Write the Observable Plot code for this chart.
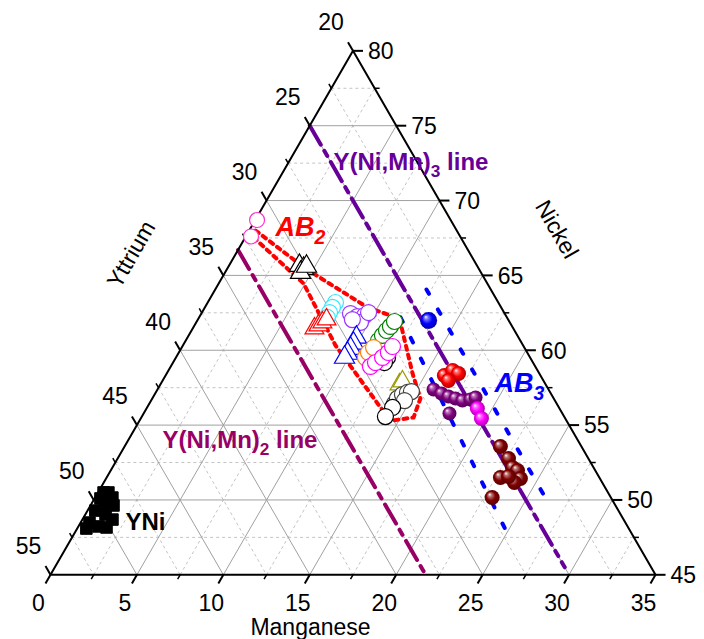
<!DOCTYPE html>
<html><head><meta charset="utf-8">
<script src="https://cdn.jsdelivr.net/npm/d3@7"></script>
<script src="https://cdn.jsdelivr.net/npm/@observablehq/plot@0.6"></script>
<style>
html,body{margin:0;padding:0;background:#fff;}
#chart svg{display:block;}
</style></head><body><div id="chart"></div>
<script>
// ---------- axis tick values ----------
const mnTicks = [0, 5, 10, 15, 20, 25, 30, 35];      // Manganese (bottom)
const niTicks = [45, 50, 55, 60, 65, 70, 75, 80];    // Nickel (right)
const yTicks  = [20, 25, 30, 35, 40, 45, 50, 55];    // Yttrium (left)

// ---------- data (Mn, Ni in at.%; Y = 100 - Mn - Ni) ----------
const yniMn = [0.32, 1.0, 1.33, 0.77, 0.45, 1.17, 1.74, 0.51, 1.16, 1.66, 0.53, 0.34, 0.6];
const yniNi = [50.5, 50.16, 49.63, 49.7, 49.29, 49.03, 48.69, 48.49, 48.23, 48.16, 48.09, 50.1, 50.5];

const pinkMn = [0.1, 0.3];
const pinkNi = [68.7, 67.6];
const blackTriMn = [4.07, 4.41, 4.37, 4.51];
const blackTriNi = [65.66, 65.46, 65.19, 65.6];
const cyanMn = [7.39, 7.38, 7.38, 7.42];
const cyanNi = [63.19, 62.86, 62.52, 62.19];
const redTriMn = [7.04, 7.17, 7.3, 7.44];
const redTriNi = [61.46, 61.66, 61.86, 62.06];
const violetMn = [8.63, 9.13, 9.51, 9.5, 8.94, 9.64];
const violetNi = [62.45, 62.25, 62.32, 61.86, 62.05, 62.52];
const blueTriMn = [9.77, 9.8, 9.8, 9.79, 9.75];
const blueTriNi = [60.86, 60.46, 60.12, 59.79, 59.52];
const greenMn = [11.15, 11.21, 11.28, 11.37, 11.44];
const greenNi = [60.65, 60.99, 61.32, 61.59, 61.92];
const blackCircMn = [12.24, 12.23];
const blackCircNi = [59.52, 59.18];
const orangeMn = [10.96, 10.97, 11.1];
const orangeNi = [59.52, 59.85, 60.18];
const magentaMn = [11.55, 11.71, 11.95, 12.12, 12.16];
const magentaNi = [58.92, 59.18, 59.52, 59.85, 60.25];
const oliveTriMn = [13.83, 13.9];
const oliveTriNi = [57.72, 57.92];
const grayMn = [14.18, 14.18, 14.34, 14.56, 14.76, 14.66];
const grayNi = [56.44, 56.78, 57.04, 57.18, 57.24, 56.64];
const openBlackMn = [14.2, 14.09];
const openBlackNi = [56.18, 55.57];

const blueBallMn = [13.38];
const blueBallNi = [61.99];
const redBallMn = [16.13, 16.44, 16.88, 16.53];
const redBallNi = [58.31, 58.65, 58.45, 57.98];
const purpleBallMn = [15.97, 16.56, 17.07, 17.54, 18.01, 18.44, 18.67, 17.69];
const purpleBallNi = [57.38, 57.11, 56.91, 56.78, 56.64, 56.71, 56.84, 55.78];
const magentaBallMn = [19.14, 19.71];
const magentaBallNi = [56.11, 55.44];
const maroonBallMn = [21.74, 22.61, 22.78, 23.14, 23.53, 23.97, 23.75, 23.21, 22.97];
const maroonBallNi = [53.57, 52.77, 51.5, 52.17, 51.97, 51.43, 51.17, 51.57, 50.16];

// region boundaries and phase lines
const ab2Mn = [0.36, 4.52, 9.41, 11.63, 14.22, 15.51, 15.75, 14.63, 13.5, 8.83, 4.91, 0.2, 0.36];
const ab2Ni = [68.0, 65.46, 62.86, 62.12, 58.45, 56.78, 55.51, 55.31, 56.18, 60.32, 64.46, 67.73, 68.0];
const ab3LeftMn = [11.65, 25.2];
const ab3LeftNi = [62.2, 47.6];
const ab3RightMn = [12.22, 26.46];
const ab3RightNi = [64.06, 49.74];
const y3LineMn = [0, 29.5];
const y3LineNi = [75, 45.5];
const y2LineMn = [0, 21.7];
const y2LineNi = [66.7, 45];

// annotations
const annoPre  = ["Y(Ni,Mn)", "AB", "AB", "Y(Ni,Mn)", "YNi"];
const annoSub  = ["3", "2", "3", "2", ""];
const annoPost = [" line", "", "", " line", ""];
const annoMn   = [2.6, 1.42, 19.3, 1.99, 2.59];
const annoNi   = [72.54, 68.2, 57.78, 53.98, 48.49];

// ---------- ternary -> cartesian (data units) ----------
const S3 = Math.sqrt(3) / 2;
const NI0 = niTicks[0], NIMAX = niTicks[niTicks.length - 1], MNMAX = mnTicks[mnTicks.length - 1];
const tx = (mn, ni) => mn + (ni - NI0) / 2;
const ty = (ni) => (ni - NI0) * S3;
const pts = (mnA, niA) => mnA.map((mn, i) => ({x: tx(mn, niA[i]), y: ty(niA[i])}));
const seg = (a, b) => ({x1: tx(a[0], a[1]), y1: ty(a[1]), x2: tx(b[0], b[1]), y2: ty(b[1])});

const TOT = 100;
const YMIN = TOT - NIMAX;  // 20
const between = (arr) => arr.slice(1, -1);
const halves = (arr) => arr.slice(0, -1).map((v, i) => (v + arr[i + 1]) / 2);
function gridSegs(niV, mnV, yV) {
  const s = [];
  niV.forEach(v => s.push(seg([0, v], [TOT - YMIN - v, v])));
  mnV.forEach(v => s.push(seg([v, NI0], [v, TOT - YMIN - v])));
  yV.forEach(v => s.push(seg([0, TOT - v], [TOT - v - NI0, NI0])));
  return s;
}
const majorGrid = gridSegs(between(niTicks), between(mnTicks), between(yTicks));
const minorGrid = gridSegs(halves(niTicks), halves(mnTicks), halves(yTicks));

const LMaj = 0.58, LMin = 0.29;
function tickSegs(L, yV, niV, mnV) {
  const s = [];
  yV.forEach(v => s.push(seg([0, TOT - v], [-L, TOT - v + L])));
  niV.forEach(v => s.push(seg([TOT - YMIN - v, v], [TOT - YMIN - v + L, v])));
  mnV.forEach(v => s.push(seg([v, NI0], [v, NI0 - L])));
  return s;
}
const majorTicks = tickSegs(LMaj, yTicks, niTicks, mnTicks);
const minorTicks = tickSegs(LMin, halves(yTicks), halves(niTicks), halves(mnTicks));

const frame = pts([0, MNMAX, 0, 0], [NI0, NI0, NIMAX, NI0]);

const font = "'Liberation Sans', Arial, Helvetica, sans-serif";

const ballGrad = {blue: "#0000ff", red: "#ff0000", purple: "#80007f", magenta: "#ff00ff", maroon: "#800000"};

const openDot = (mnA, niA, color, symbol, r, fill = "white") =>
  Plot.dot(pts(mnA, niA), {x: "x", y: "y", symbol, r, stroke: color, strokeWidth: 1.2, fill});
const ball = (mnA, niA, key, r) =>
  Plot.dot(pts(mnA, niA), {x: "x", y: "y", r, fill: `url(#g-${key})`, stroke: "none"});

const annoData = annoPre.map((p, i) => ({x: tx(annoMn[i], annoNi[i]), y: ty(annoNi[i]), t: p + annoSub[i] + annoPost[i], i}));
const annoStyle = [
  {fill: "#660099", fontSize: 24, fontStyle: "normal"},
  {fill: "#ff0000", fontSize: 27, fontStyle: "italic"},
  {fill: "#0000ff", fontSize: 27, fontStyle: "italic"},
  {fill: "#990066", fontSize: 24, fontStyle: "normal"},
  {fill: "#000000", fontSize: 24, fontStyle: "normal"}
];

const title = (label, dx, dy, rotate) =>
  Plot.text([label], {frameAnchor: "top-left", dx, dy, rotate, text: d => d, textAnchor: "middle", lineAnchor: "middle", fontSize: 23, fill: "black"});

const chart = Plot.plot({
  width: 704, height: 639, margin: 0,
  x: {domain: [0, MNMAX], range: [50, 655], axis: null},
  y: {domain: [0, MNMAX * S3], range: [574.3, 574.3 - 605 * S3], axis: null},
  style: {fontFamily: font, background: "white", overflow: "visible"},
  marks: [
    Plot.link(minorGrid, {x1: "x1", y1: "y1", x2: "x2", y2: "y2", stroke: "#c4c4c4", strokeWidth: 1, strokeDasharray: "3,3"}),
    Plot.link(majorGrid, {x1: "x1", y1: "y1", x2: "x2", y2: "y2", stroke: "#a0a0a0", strokeWidth: 1}),
    Plot.line(pts(y2LineMn, y2LineNi), {x: "x", y: "y", stroke: "#990066", strokeWidth: 4, strokeDasharray: "22,7,6,7"}),
    Plot.line(pts(y3LineMn, y3LineNi), {x: "x", y: "y", stroke: "#660099", strokeWidth: 4, strokeDasharray: "22,7,6,7"}),
    Plot.line(pts(ab3LeftMn, ab3LeftNi), {x: "x", y: "y", stroke: "#0000ff", strokeWidth: 4, strokeDasharray: "5,18"}),
    Plot.line(pts(ab3RightMn, ab3RightNi), {x: "x", y: "y", stroke: "#0000ff", strokeWidth: 4, strokeDasharray: "5,18"}),
    Plot.line(frame, {x: "x", y: "y", stroke: "black", strokeWidth: 2}),
    Plot.link(majorTicks, {x1: "x1", y1: "y1", x2: "x2", y2: "y2", stroke: "black", strokeWidth: 2}),
    Plot.link(minorTicks, {x1: "x1", y1: "y1", x2: "x2", y2: "y2", stroke: "black", strokeWidth: 1.5}),
    Plot.text(yTicks, {x: v => tx(0, TOT - v), y: v => ty(TOT - v), text: d => String(d), dx: -22, dy: -28, fontSize: 23, fill: "black"}),
    Plot.text(niTicks, {x: v => tx(TOT - YMIN - v, v), y: v => ty(v), text: d => String(d), dx: 15, dy: 1, textAnchor: "start", fontSize: 23, fill: "black"}),
    Plot.text(mnTicks, {x: v => tx(v, NI0), y: v => ty(NI0), text: d => String(d), dx: -12, dy: 29, fontSize: 23, fill: "black"}),
    title("Manganese", 310, 627, 0),
    title("Yttrium", 131, 254, -60),
    title("Nickel", 556, 229, 60),
    Plot.line(pts(ab2Mn, ab2Ni), {x: "x", y: "y", stroke: "#ff0000", strokeWidth: 4, strokeDasharray: "4,5"}),
    Plot.dot(pts(yniMn, yniNi), {x: "x", y: "y", symbol: "square", r: 6.5, fill: "black", stroke: "black", strokeWidth: 1}),
    openDot(pinkMn, pinkNi, "#ff33cc", "circle", 7.5),
    openDot(blackTriMn, blackTriNi, "black", "triangle", 7.5),
    openDot(cyanMn, cyanNi, "#33e6ff", "circle", 8),
    openDot(redTriMn, redTriNi, "#ff0000", "triangle", 7),
    openDot(violetMn, violetNi, "#9933ff", "circle", 8),
    openDot(blueTriMn, blueTriNi, "#0000ff", "triangle", 7.5),
    openDot(blackCircMn, blackCircNi, "black", "circle", 8),
    openDot(greenMn, greenNi, "#008000", "circle", 8),
    openDot(orangeMn, orangeNi, "#ff8000", "circle", 8),
    openDot(magentaMn, magentaNi, "#ff00ff", "circle", 8),
    openDot(oliveTriMn, oliveTriNi, "#999900", "triangle", 7),
    openDot(grayMn, grayNi, "#404040", "circle", 8),
    openDot(openBlackMn, openBlackNi, "black", "circle", 8),
    ball(blueBallMn, blueBallNi, "blue", 8.5),
    ball(redBallMn, redBallNi, "red", 7.5),
    ball(purpleBallMn, purpleBallNi, "purple", 7),
    ball(magentaBallMn, magentaBallNi, "magenta", 7.5),
    ball(maroonBallMn, maroonBallNi, "maroon", 7.5),
    Plot.text(annoData, {x: "x", y: "y", text: "t", textAnchor: "start", fontWeight: "bold",
      fill: d => annoStyle[d.i].fill, fontSize: d => annoStyle[d.i].fontSize, className: "anno"})
  ]
});

const defs = d3.select(chart).insert("defs", ":first-child");
for (const [k, c] of Object.entries(ballGrad)) {
  const g = defs.append("radialGradient").attr("id", "g-" + k)
    .attr("cx", "50%").attr("cy", "50%").attr("r", "55%").attr("fx", "32%").attr("fy", "28%");
  const base = d3.color(c);
  g.append("stop").attr("offset", "0%").attr("stop-color", "#ffffff");
  g.append("stop").attr("offset", "22%").attr("stop-color", d3.interpolateRgb("#ffffff", c)(0.55));
  g.append("stop").attr("offset", "55%").attr("stop-color", c);
  g.append("stop").attr("offset", "100%").attr("stop-color", base.darker(1.3).formatHex());
}

d3.select(chart).selectAll("g.anno text").each(function(_, j) {
  const st = annoStyle[j];
  const el = d3.select(this);
  el.text(null).style("font-size", st.fontSize + "px").style("font-style", st.fontStyle);
  el.append("tspan").text(annoPre[j]);
  if (annoSub[j]) {
    el.append("tspan").attr("dy", (0.3 * st.fontSize) + "px").style("font-size", (0.72 * st.fontSize) + "px").text(annoSub[j]);
    if (annoPost[j]) el.append("tspan").attr("dy", (-0.3 * st.fontSize) + "px").text(annoPost[j]);
  }
});

document.getElementById("chart").appendChild(chart);
</script>
</body></html>
